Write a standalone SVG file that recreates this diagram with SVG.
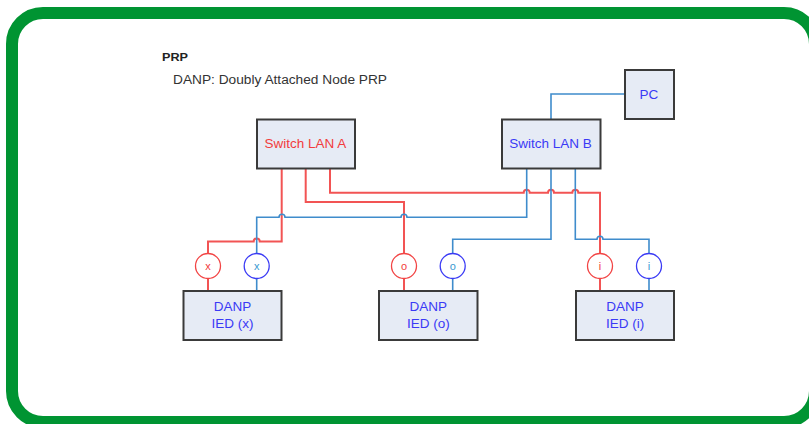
<svg xmlns="http://www.w3.org/2000/svg" width="809" height="424" viewBox="0 0 809 424">
<style>
.box{fill:#e6ebf5;stroke:#3a3a3a;stroke-width:2}
.t{font-family:"Liberation Sans",Arial,sans-serif;text-anchor:middle}
.red{fill:none;stroke:#f25454;stroke-width:2}
.blue{fill:none;stroke:#3f8ccc;stroke-width:1.6}
.cr{fill:#fff;stroke:#f24545;stroke-width:1.3}
.cb{fill:#fff;stroke:#3a3af5;stroke-width:1.3}
.tr{fill:#f23c3c}
.tb{fill:#3a3af5}
.tl{fill:#3a9ad0}
</style>
<rect x="0" y="0" width="809" height="424" fill="#fff"/>
<rect x="12" y="13" width="803" height="409" rx="31" fill="#fff" stroke="#009432" stroke-width="12"/>
<text x="162" y="60.5" font-family="Liberation Sans,Arial,sans-serif" font-weight="bold" font-size="11" fill="#222" textLength="26" lengthAdjust="spacingAndGlyphs">PRP</text>
<text x="173" y="83.5" font-family="Liberation Sans,Arial,sans-serif" font-size="12" fill="#333" textLength="214" lengthAdjust="spacingAndGlyphs">DANP: Doubly Attached Node PRP</text>
<g id="connectors">
<path class="blue" d="M551,119 V94 H625"/>
<path class="red" d="M281.7,169 V241.5 H259.7 a3,3 0 0 0 -6,0 H208 V253.5"/>
<path class="red" d="M305.7,169 V202 H404 V253.5"/>
<path class="red" d="M330,169 V192.7 H523.7 a3,3 0 0 1 6,0 H548 a3,3 0 0 1 6,0 H572.3 a3,3 0 0 1 6,0 H600 V253.5"/>
<path class="blue" d="M526.7,169 V217.3 H407 a3,3 0 0 0 -6,0 H285 a3,3 0 0 0 -6,0 H256.7 V253.5"/>
<path class="blue" d="M551,169 V239.3 H452.7 V253.5"/>
<path class="blue" d="M575.3,169 V239.3 H597 a3,3 0 0 1 6,0 H649 V253.5"/>
<path class="red" d="M208,278.5 V291 M404,278.5 V291 M600,278.5 V291"/>
<path class="blue" d="M256.7,278.5 V291 M452.7,278.5 V291 M649,278.5 V291"/>
</g>
<g id="switchA"><rect class="box" x="257" y="119.5" width="98" height="49"/><text class="t tr" x="305.5" y="148" font-size="13.5">Switch LAN A</text></g>
<g id="switchB"><rect class="box" x="502" y="119.5" width="98.5" height="49"/><text class="t tb" x="550.5" y="148" font-size="13.5">Switch LAN B</text></g>
<g id="pc"><rect class="box" x="625" y="70" width="49" height="49"/><text class="t tb" x="649" y="99" font-size="13.5">PC</text></g>
<g id="portXa"><circle class="cr" cx="208" cy="266" r="12.5"/><text class="t tr" x="208" y="270" font-size="11">x</text></g>
<g id="portXb"><circle class="cb" cx="256.7" cy="266" r="12.5"/><text class="t tl" x="256.7" y="270" font-size="11">x</text></g>
<g id="portOa"><circle class="cr" cx="404" cy="266" r="12.5"/><text class="t tr" x="404" y="270" font-size="11">o</text></g>
<g id="portOb"><circle class="cb" cx="452.7" cy="266" r="12.5"/><text class="t tl" x="452.7" y="270" font-size="11">o</text></g>
<g id="portIa"><circle class="cr" cx="600" cy="266" r="12.5"/><text class="t tr" x="600" y="270" font-size="11">i</text></g>
<g id="portIb"><circle class="cb" cx="649" cy="266" r="12.5"/><text class="t tl" x="649" y="270" font-size="11">i</text></g>
<g id="iedX"><rect class="box" x="183.5" y="291" width="98" height="49"/><text class="t tb" x="232.5" y="311" font-size="13.5">DANP</text><text class="t tb" x="232.5" y="327.5" font-size="13.5">IED (x)</text></g>
<g id="iedO"><rect class="box" x="379" y="291" width="98.5" height="49"/><text class="t tb" x="428.3" y="311" font-size="13.5">DANP</text><text class="t tb" x="428.3" y="327.5" font-size="13.5">IED (o)</text></g>
<g id="iedI"><rect class="box" x="576" y="291" width="98" height="49"/><text class="t tb" x="625" y="311" font-size="13.5">DANP</text><text class="t tb" x="625" y="327.5" font-size="13.5">IED (i)</text></g>
</svg>
